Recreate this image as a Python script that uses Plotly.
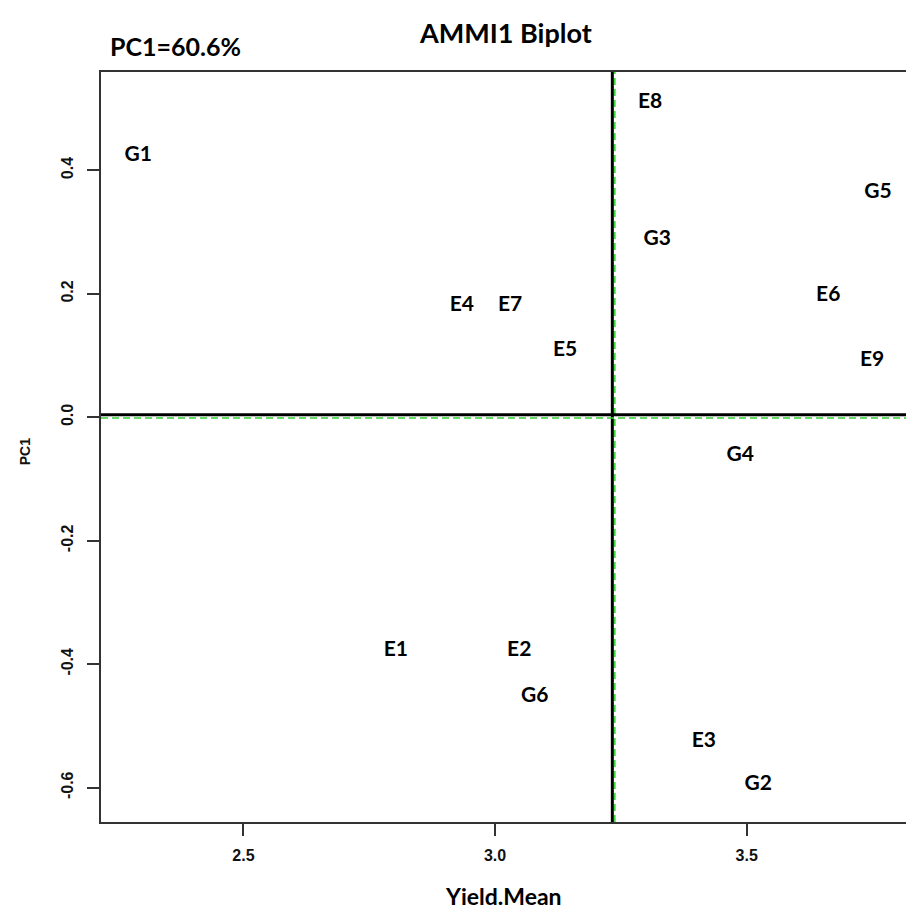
import plotly.graph_objects as go

# Data
labels = ["G1", "E8", "G5", "G3", "E6", "E4", "E7", "E5", "E9", "G4",
          "E1", "E2", "G6", "E3", "G2"]
yield_mean = [2.291, 3.308, 3.761, 3.322, 3.662, 2.934, 3.030, 3.139, 3.749, 3.487,
              2.803, 3.048, 3.079, 3.415, 3.523]
pc1 = [0.423, 0.510, 0.364, 0.288, 0.197, 0.181, 0.181, 0.108, 0.092, -0.062,
       -0.378, -0.378, -0.453, -0.526, -0.596]

x_ticks = [2.5, 3.0, 3.5]
x_ticktext = ["2.5", "3.0", "3.5"]
y_ticks = [-0.6, -0.4, -0.2, 0.0, 0.2, 0.4]
y_ticktext = ["-0.6", "-0.4", "-0.2", "0.0", "0.2", "0.4"]

grand_mean = 3.233
x_range = [2.217, 3.8165]
y_range = [-0.6556, 0.5594]

label_font = dict(family="Lato, 'Open Sans', sans-serif", size=21, color="black")

fig = go.Figure()
fig.add_trace(go.Scatter(
    x=yield_mean, y=pc1, mode="text", text=[f"<b>{t}</b>" for t in labels],
    textposition="middle center", textfont=label_font, hoverinfo="skip",
    showlegend=False, cliponaxis=False))

# reference lines: black solid + green dashed
green = "#2fd12f"
fig.add_shape(type="line", xref="x", yref="paper", x0=grand_mean, x1=grand_mean,
              y0=0, y1=1, line=dict(color="black", width=3), layer="below")
fig.add_shape(type="line", xref="x", yref="paper", x0=grand_mean + 0.005, x1=grand_mean + 0.005,
              y0=0, y1=1, line=dict(color=green, width=1.5, dash="7px,4px"), layer="below")
fig.add_shape(type="line", xref="paper", yref="y", x0=0, x1=1, y0=0.004, y1=0.004,
              line=dict(color="black", width=3), layer="below")
fig.add_shape(type="line", xref="paper", yref="y", x0=0, x1=1, y0=-0.001, y1=-0.001,
              line=dict(color=green, width=1.5, dash="7px,4px"), layer="below")

tick_font = dict(family="Arial, 'Liberation Sans', sans-serif", size=16, color="#111",
                 weight="bold")

fig.update_layout(
    width=906, height=911,
    margin=dict(l=101, r=0, t=72, b=89),
    paper_bgcolor="white", plot_bgcolor="white",
    xaxis=dict(range=x_range, tickvals=x_ticks, ticktext=x_ticktext,
               showgrid=False, zeroline=False, showline=True, mirror=True,
               linecolor="#333", linewidth=2, ticks="outside", ticklen=12,
               tickwidth=2, tickcolor="#333", tickfont=tick_font,
               ticklabelstandoff=6),
    yaxis=dict(range=y_range, tickvals=y_ticks, ticktext=y_ticktext,
               showgrid=False, zeroline=False, showline=True, mirror=False,
               linecolor="#333", linewidth=2, ticks="outside", ticklen=12,
               tickwidth=2, tickcolor="#333", tickfont=tick_font, tickangle=-90,
               ticklabelstandoff=8),
    annotations=[
        dict(text="<b>AMMI1 Biplot</b>", xref="paper", yref="paper", x=0.503, y=1.0533,
             xanchor="center", yanchor="middle", showarrow=False,
             font=dict(family="Lato, 'Open Sans', sans-serif", size=27, color="black")),
        dict(text="<b>PC1=60.6%</b>", xref="paper", yref="paper", x=0.092, y=1.0347,
             xanchor="center", yanchor="middle", showarrow=False,
             font=dict(family="Lato, 'Open Sans', sans-serif", size=25, color="black")),
        dict(text="<b>Yield.Mean</b>", xref="paper", yref="paper", x=0.5, y=-0.099,
             xanchor="center", yanchor="middle", showarrow=False,
             font=dict(family="Lato, 'Open Sans', sans-serif", size=23, color="black")),
        dict(text="<b>PC1</b>", xref="paper", yref="paper", x=-0.0944, y=0.493,
             xanchor="center", yanchor="middle", showarrow=False, textangle=-90,
             font=dict(family="Arial, 'Liberation Sans', sans-serif", size=14, color="#111")),
    ],
)

fig.write_html("out.html", config={"displayModeBar": False},
               post_script="document.body.style.margin='0px';document.body.style.overflow='hidden';")
